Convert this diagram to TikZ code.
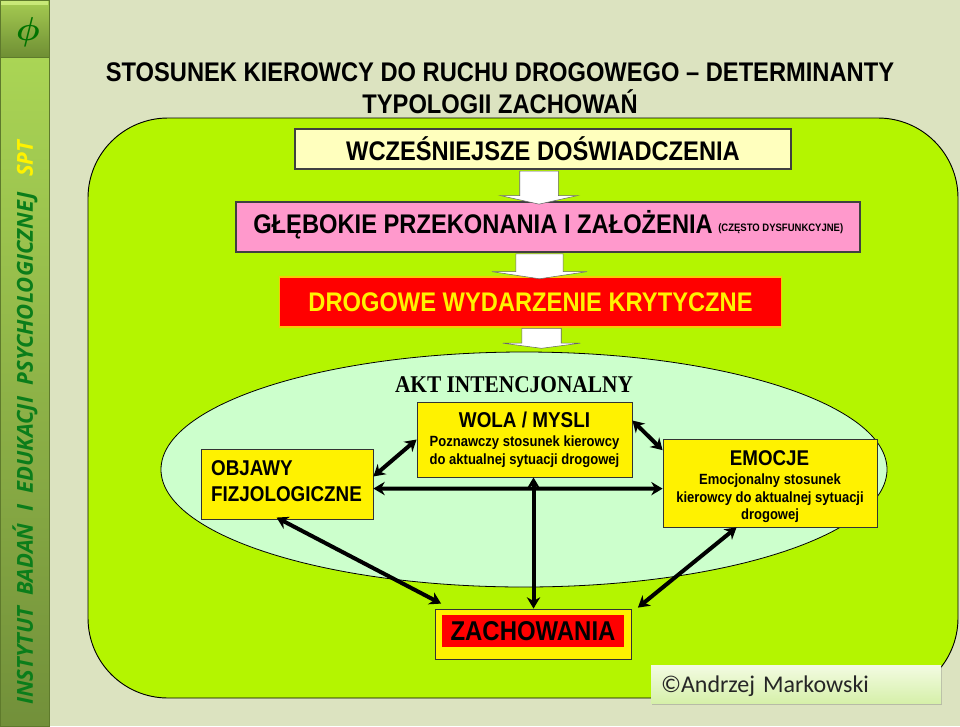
\documentclass[tikz,border=0pt]{standalone}
\usepackage{fontspec}
\setmainfont[FakeStretch=0.88]{Liberation Sans}
\newfontfamily\sidefont{Open Sans}
\newfontfamily\signfont{Carlito}
\newfontfamily\serifhead[FakeStretch=0.89]{Liberation Serif}
\usepackage{tikz}
\usetikzlibrary{arrows.meta,shapes.arrows,shapes.geometric,shadows}

\definecolor{pagebg}{HTML}{DCE3C0}
\definecolor{limefill}{HTML}{B4F500}
\definecolor{mintfill}{HTML}{CCFFCC}
\definecolor{paleyellow}{HTML}{FFFFBE}
\definecolor{pinkfill}{HTML}{FF99CC}
\definecolor{sidegreen}{HTML}{0B7D1A}
\definecolor{sidetop}{HTML}{AAD555}
\definecolor{sidebot}{HTML}{72903A}
\definecolor{sideedge}{HTML}{5E7A2C}
\definecolor{logotop}{HTML}{A6CC52}
\definecolor{logobot}{HTML}{6F8F34}
\definecolor{logoglow}{HTML}{C8E878}
\definecolor{credittop}{HTML}{F3FBE2}
\definecolor{creditbot}{HTML}{D6F0AA}

\begin{document}
\begin{tikzpicture}[
    x=0.75pt,
    y=-0.75pt,
    >={Stealth[length=8.5pt,width=10pt]},
    font=\bfseries,
    headbox/.style={
        rectangle, draw=black!75,
        line width=0.8pt,
        inner sep=0pt,
        text=black,
        align=center
    },
    yellowbox/.style={
        headbox, fill=yellow,
        draw=black!80,
        line width=0.6pt
    },
    downarrow/.style={
        single arrow, draw=black!60,
        fill=white,
        line width=0.4pt,
        shape border rotate=270,
        inner ysep=0pt
    },
    thickarrow/.style={
        <->,
        line width=3pt
    },
    sidelabel/.style={
        rotate=90,
        anchor=west,
        inner sep=0pt,
        font=\sidefont\bfseries\itshape\fontsize{16.5pt}{16.5pt}\selectfont
    }
]

\useasboundingbox (0,0) rectangle (960,726);

\node[fill=pagebg,minimum width=720pt,minimum height=544.5pt,inner sep=0pt,outer sep=0pt] (page) at (480,363) {};

% side bar
\node[top color=sidetop,bottom color=sidebot,draw=sideedge,
      minimum width=36.75pt,minimum height=502pt,inner sep=0pt,outer sep=0pt] (sidebar) at (24.5,391.5) {};
\node[top color=logotop,bottom color=logobot,draw=sideedge,
      minimum width=36.75pt,minimum height=42.5pt,inner sep=0pt,outer sep=0pt] (logo) at (24.5,28.5) {};
\node[fill=logoglow,minimum width=35.5pt,minimum height=3.5pt,inner sep=0pt] (logoglow) at (24.5,3) {};
\node[inner sep=0pt,text=green!45!black,font=\boldmath\fontsize{36pt}{36pt}\selectfont] (logophi) at (28,32) {$\phi$};
\node[sidelabel,text=sidegreen] (sidename) at (25,705)
    {INSTYTUT\ \ BADAŃ\ \ I\ \ EDUKACJI\ \ PSYCHOLOGICZNEJ};
\node[sidelabel,text=yellow] (sidespt) at (25,177) {SPT};

% title
\node[align=center,inner sep=0pt,font=\bfseries\fontsize{20.2pt}{24pt}\selectfont] (title) at (500,88)
    {STOSUNEK KIEROWCY DO RUCHU DROGOWEGO – DETERMINANTY\\TYPOLOGII ZACHOWAŃ};

% background shapes
\node[rectangle,draw=black,fill=limefill,rounded corners=60pt,line width=0.7pt,
      minimum width=652.5pt,minimum height=435pt,inner sep=0pt] (panel) at (523,408) {};
\node[ellipse,draw=black,fill=mintfill,line width=0.6pt,
      minimum width=544.5pt,minimum height=176.25pt,inner sep=0pt] (oval) at (524,469.5) {};

% upper boxes
\node[headbox,fill=paleyellow,minimum width=372pt,minimum height=30pt,font=\bfseries\fontsize{20.2pt}{20pt}\selectfont] (earlier) at (543,149)
    {WCZEŚNIEJSZE DOŚWIADCZENIA};
\node[headbox,fill=pinkfill,minimum width=468pt,minimum height=37.5pt] (beliefs) at (548,227) {};
\node[anchor=west,inner sep=0pt,font=\bfseries\fontsize{20.2pt}{20pt}\selectfont] (beliefstext) at (253,225)
    {GŁĘBOKIE PRZEKONANIA I ZAŁOŻENIA};
\node[anchor=west,inner sep=0pt,font=\bfseries\fontsize{8.1pt}{8pt}\selectfont] (beliefsnote) at (718,229)
    {(CZĘSTO DYSFUNKCYJNE)};
\node[headbox,fill=red,draw=yellow!80!red,text=yellow,minimum width=377pt,minimum height=37.5pt,font=\bfseries\fontsize{20.2pt}{20pt}\selectfont] (critical) at (530.5,302)
    {DROGOWE WYDARZENIE KRYTYCZNE};

% block arrows
\node[downarrow,inner xsep=14.25pt,minimum width=57.75pt,minimum height=24.75pt,single arrow head extend=14.6pt,single arrow tip angle=155] (flow1) at (539,185.5) {};
\node[downarrow,inner xsep=17.5pt,minimum width=71pt,minimum height=18.75pt,single arrow head extend=18pt,single arrow tip angle=163] (flow2) at (539.5,264.5) {};
\node[downarrow,inner xsep=14.6pt,minimum width=57.75pt,minimum height=15pt,single arrow head extend=14.25pt,single arrow tip angle=165] (flow3) at (541.5,337) {};

% act
\node[inner sep=0pt,font=\serifhead\bfseries\fontsize{18pt}{20pt}\selectfont] (acttitle) at (514,385) {AKT INTENCJONALNY};
\node[yellowbox,minimum width=161.25pt,minimum height=56.25pt] (will) at (524.5,439.5) {};
\node[inner sep=0pt,font=\bfseries\fontsize{16.1pt}{16pt}\selectfont] (willhead) at (524.5,420) {WOLA / MYSLI};
\node[inner sep=0pt,align=center,font=\bfseries\fontsize{11.1pt}{13.5pt}\selectfont] (willtext) at (524.5,452)
    {Poznawczy stosunek kierowcy\\do aktualnej sytuacji drogowej};

\node[yellowbox,minimum width=129pt,minimum height=52.5pt] (symptoms) at (287,484) {};
\node[inner sep=0pt,align=left,font=\bfseries\fontsize{16.05pt}{19.5pt}\selectfont] (symptomtext) at (286.5,481)
    {OBJAWY\\FIZJOLOGICZNE};

\node[yellowbox,minimum width=160.5pt,minimum height=66pt] (emotions) at (770,483) {};
\node[inner sep=0pt,font=\bfseries\fontsize{16pt}{16pt}\selectfont] (emohead) at (769.5,458) {EMOCJE};
\node[inner sep=0pt,align=center,font=\bfseries\fontsize{11.1pt}{13pt}\selectfont] (emotext) at (770,498.5)
    {Emocjonalny stosunek\\kierowcy do aktualnej sytuacji\\drogowej};

\node[yellowbox,minimum width=147pt,minimum height=37.5pt] (behaviour) at (533.5,634) {};
\node[rectangle,fill=red,inner sep=0pt,minimum width=136.5pt,minimum height=24pt,font=\bfseries\fontsize{20.4pt}{20pt}\selectfont] (behaviourtext) at (533,631) {ZACHOWANIA};

% connectors
\draw[thickarrow] (symptoms.5) -- (will.180);
\draw[thickarrow] (will.10) -- (emotions.163);
\draw[thickarrow] (symptoms.-3) -- (emotions.183);
\draw[thickarrow] (behaviour.north |- will.south) -- (behaviour.north);
\draw[thickarrow,shorten <=-3pt] (symptoms.-101) -- ([shift={(6,-5)}]behaviour.north west);
\draw[thickarrow] (emotions.233) -- ([shift={(6,-1)}]behaviour.north east);

\node[rectangle,top color=credittop,bottom color=creditbot,drop shadow={shadow xshift=0.5pt,shadow yshift=-1.5pt,opacity=0.4},
      text width=202.5pt,minimum height=28.5pt,inner xsep=7.5pt,inner ysep=0pt,text depth=0pt,align=left,text=black!85,
      font=\signfont\mdseries\fontsize{18pt}{20pt}\selectfont] (credit) at (796,684)
    {©Andrzej Markowski};

\end{tikzpicture}
\end{document}
